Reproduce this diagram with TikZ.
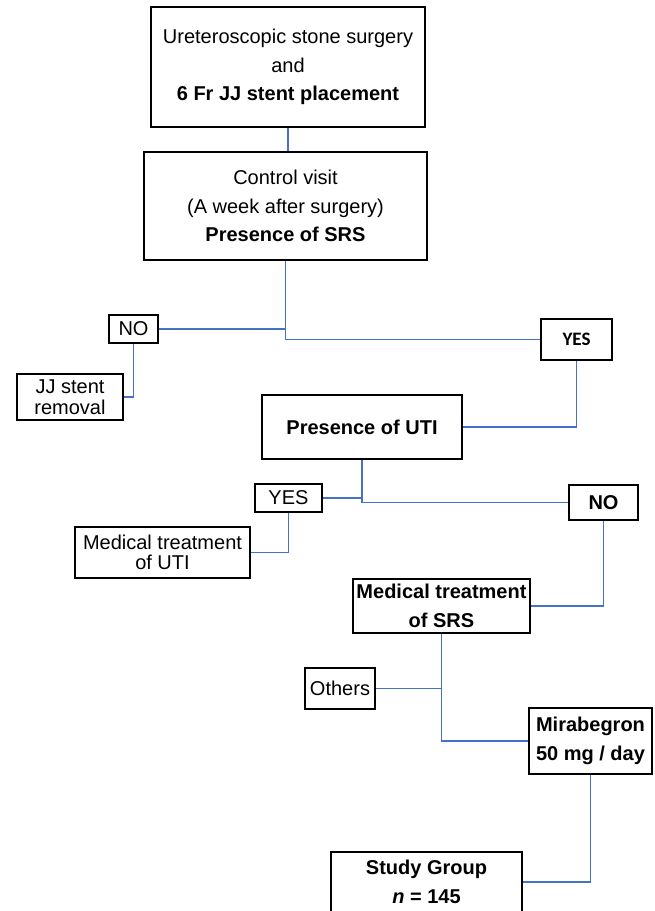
\documentclass[tikz,border=0pt]{standalone}
\usepackage{fontspec}
\setmainfont{Liberation Sans}
\newfontfamily\calfont{Carlito}
\definecolor{linkblue}{RGB}{68,114,196}
\begin{document}
\begin{tikzpicture}[x=1pt,y=-1pt,
  flow box/.style={draw,line width=1.6pt,inner sep=0pt,align=center,
    font=\fontsize{20}{28.5}\selectfont},
  tight/.style={font=\fontsize{20}{20.5}\selectfont},
  link/.style={draw=linkblue,line width=1.5pt}]
  \useasboundingbox (0,0) rectangle (654,911);
  \clip (0,0) rectangle (654,911);

\node[flow box, minimum width=274pt, minimum height=120pt] (surgery) at (288,67)
  {Ureteroscopic stone surgery\\and\\\textbf{6 Fr JJ stent placement}};
\node[flow box, minimum width=283pt, minimum height=108pt] (visit) at (285.5,206)
  {Control visit\\(A week after surgery)\\\textbf{Presence of SRS}};
\node[flow box, minimum width=49pt, minimum height=28pt] (no1) at (133.5,329) {NO};
\node[flow box, tight, minimum width=106pt, minimum height=46pt] (stentout) at (70,397)
  {JJ stent\\removal};
\node[flow box, minimum width=71pt, minimum height=41pt] (yes1) at (576.5,339.5)
  {\calfont\bfseries\fontsize{19}{20}\selectfont YES};
\node[flow box, minimum width=200pt, minimum height=64pt] (uti) at (362,427)
  {\textbf{Presence of UTI}};
\node[flow box, minimum width=67pt, minimum height=28pt] (yes2) at (288.5,498) {YES};
\node[flow box, tight, minimum width=175pt, minimum height=51pt] (utitreat) at (162.5,552.5)
  {Medical treatment\\of UTI};
\node[flow box, minimum width=69pt, minimum height=35pt] (no2) at (603.5,502.5) {\textbf{NO}};
\node[flow box, minimum width=177pt, minimum height=54pt] (srstreat) at (441.5,606)
  {\textbf{Medical treatment}\\\textbf{of SRS}};
\node[flow box, minimum width=70pt, minimum height=41pt] (others) at (340,688.5) {Others};
\node[flow box, minimum width=123pt, minimum height=66pt] (mira) at (590.5,741)
  {\textbf{Mirabegron}\\\textbf{50 mg / day}};
\node[flow box, minimum width=191pt, minimum height=60pt] (study) at (426.5,882)
  {\textbf{Study Group}\\\textbf{\textit{n} = 145}};

\draw[link] (surgery.south) -- (surgery.south |- visit.north);
\draw[link] (visit.south) |- (yes1.west);
\draw[link] (no1.east) -- (no1.east -| visit.south);
\draw[link] (no1.south) |- (stentout.east);
\draw[link] (yes1.south) |- (uti.east);
\draw[link] (uti.south) |- (no2.west);
\draw[link] (yes2.east) -- (yes2.east -| uti.south);
\draw[link] (yes2.south) |- (utitreat.east);
\draw[link] (no2.south) |- (srstreat.east);
\draw[link] (srstreat.south) |- (mira.west);
\draw[link] (others.east) -- (others.east -| srstreat.south);
\draw[link] (mira.south) |- (study.east);
\end{tikzpicture}
\end{document}
